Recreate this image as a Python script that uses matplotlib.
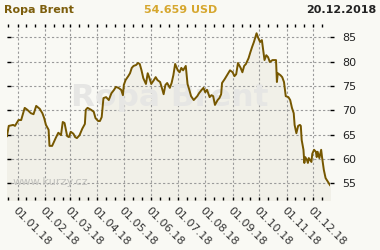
import matplotlib
matplotlib.use("Agg")
import matplotlib.pyplot as plt
import matplotlib.dates as mdates
import numpy as np
import pandas as pd

# Brent crude, USD per barrel
dates = [
    "2017-12-20", "2017-12-22", "2017-12-27", "2017-12-29", "2018-01-02", "2018-01-05",
    "2018-01-09", "2018-01-12", "2018-01-16", "2018-01-19", "2018-01-22", "2018-01-26",
    "2018-01-29", "2018-01-31", "2018-02-02", "2018-02-05", "2018-02-06", "2018-02-09",
    "2018-02-13", "2018-02-16", "2018-02-19", "2018-02-21", "2018-02-23", "2018-02-26",
    "2018-02-28", "2018-03-02", "2018-03-05", "2018-03-07", "2018-03-09", "2018-03-12",
    "2018-03-15", "2018-03-18", "2018-03-19", "2018-03-21", "2018-03-25", "2018-03-28",
    "2018-03-30", "2018-04-02", "2018-04-04", "2018-04-06", "2018-04-08", "2018-04-11",
    "2018-04-14", "2018-04-17", "2018-04-20", "2018-04-22", "2018-04-25", "2018-04-28",
    "2018-04-30", "2018-05-01", "2018-05-03", "2018-05-06", "2018-05-08", "2018-05-10",
    "2018-05-12", "2018-05-15", "2018-05-17", "2018-05-19", "2018-05-21", "2018-05-23",
    "2018-05-26", "2018-05-28", "2018-05-30", "2018-06-01", "2018-06-04", "2018-06-06",
    "2018-06-08", "2018-06-11", "2018-06-13", "2018-06-15", "2018-06-17", "2018-06-19",
    "2018-06-22", "2018-06-24", "2018-06-26", "2018-06-28", "2018-07-01", "2018-07-03",
    "2018-07-05", "2018-07-07", "2018-07-10", "2018-07-12", "2018-07-14", "2018-07-16",
    "2018-07-19", "2018-07-21", "2018-07-23", "2018-07-25", "2018-07-28", "2018-07-30",
    "2018-08-01", "2018-08-03", "2018-08-06", "2018-08-08", "2018-08-10", "2018-08-12",
    "2018-08-15", "2018-08-17", "2018-08-19", "2018-08-20", "2018-08-23", "2018-08-25",
    "2018-08-27", "2018-08-29", "2018-09-01", "2018-09-03", "2018-09-05", "2018-09-07",
    "2018-09-10", "2018-09-12", "2018-09-14", "2018-09-16", "2018-09-19", "2018-09-21",
    "2018-09-23", "2018-09-25", "2018-09-28", "2018-09-30", "2018-10-02", "2018-10-04",
    "2018-10-07", "2018-10-09", "2018-10-11", "2018-10-13", "2018-10-16", "2018-10-18",
    "2018-10-20", "2018-10-21", "2018-10-22", "2018-10-25", "2018-10-27", "2018-10-29",
    "2018-10-31", "2018-11-03", "2018-11-05", "2018-11-07", "2018-11-09", "2018-11-10",
    "2018-11-12", "2018-11-14", "2018-11-16", "2018-11-17", "2018-11-18", "2018-11-20",
    "2018-11-21", "2018-11-22", "2018-11-24", "2018-11-25", "2018-11-26", "2018-11-29",
    "2018-11-30", "2018-12-02", "2018-12-04", "2018-12-05", "2018-12-06", "2018-12-08",
    "2018-12-10", "2018-12-11", "2018-12-13", "2018-12-15", "2018-12-20",
]
prices = [
    64.7, 66.8, 67.0, 66.8, 68.0, 68.0,
    70.5, 70.1, 69.4, 69.2, 70.9, 70.3,
    69.4, 68.4, 67.0, 66.0, 62.7, 62.7,
    64.3, 65.4, 64.9, 67.6, 67.4, 64.7,
    64.5, 65.6, 65.2, 64.5, 64.3, 64.9,
    66.2, 67.2, 70.1, 70.5, 70.1, 69.7,
    68.4, 67.8, 67.8, 68.6, 72.5, 72.7,
    72.1, 73.5, 74.2, 74.8, 74.6, 74.2,
    73.1, 75.2, 76.2, 77.0, 77.6, 78.7,
    79.1, 79.3, 79.7, 79.5, 78.2, 76.6,
    75.4, 77.6, 76.6, 75.4, 76.2, 76.8,
    76.2, 75.8, 74.6, 73.3, 75.2, 75.6,
    74.6, 75.6, 77.2, 79.5, 78.2, 77.8,
    78.7, 78.2, 79.1, 75.4, 74.2, 72.9,
    72.1, 72.5, 72.9, 73.5, 74.2, 74.6,
    73.7, 74.2, 72.7, 73.1, 72.9, 71.1,
    72.1, 72.5, 73.3, 75.6, 76.4, 77.0,
    77.6, 78.2, 77.8, 77.0, 77.4, 79.7,
    78.7, 77.8, 79.1, 79.5, 80.7, 81.9,
    83.0, 84.0, 85.8, 84.8, 84.0, 84.4,
    80.3, 81.3, 80.9, 79.9, 80.3, 80.3,
    80.3, 75.8, 77.6, 77.2, 76.8, 75.8,
    72.9, 72.7, 72.1, 70.5, 69.4, 67.0,
    65.3, 66.8, 67.0, 66.8, 63.9, 61.9,
    59.2, 60.4, 59.8, 59.2, 60.2, 59.4,
    61.1, 61.9, 61.5, 60.4, 61.5, 60.2,
    61.9, 60.4, 57.8, 56.1, 54.659,
]
y_ticks = [55, 60, 65, 70, 75, 80, 85]

x = pd.to_datetime(dates)
line_color = "#765700"
bg = "#f9f9f4"

fig = plt.figure(figsize=(3.8, 2.5), dpi=100, facecolor=bg)
ax = fig.add_axes([7 / 380, 50 / 250, 323 / 380, 176 / 250])
ax.set_facecolor(bg)

ax.set_xlim(pd.Timestamp("2017-12-20"), pd.Timestamp("2018-12-20"))
ax.set_ylim(51.6, 87.7)

ax.fill_between(x, prices, 51.6, color="#f1f0e8", zorder=1)
ax.plot(x, prices, color=line_color, lw=1.4, zorder=3)

# watermarks
ax.text(0.505, 0.585, "Ropa Brent", transform=ax.transAxes, ha="center", va="center",
        fontsize=22.5, fontweight="bold", color="#e6e6e4", zorder=2)
ax.text(0.018, 0.10, "www.kurzy.cz", transform=ax.transAxes, ha="left", va="center",
        fontsize=8.2, color="#c2c2be", zorder=2)

for s in ax.spines.values():
    s.set_visible(False)

ax.xaxis.set_major_locator(mdates.MonthLocator())
ax.xaxis.set_minor_locator(mdates.DayLocator(bymonthday=[11, 21]))
ax.xaxis.set_major_formatter(mdates.DateFormatter("%d.%m.%y"))
ax.set_yticks(y_ticks)

ax.grid(True, which="major", color="#9a9a9a", linestyle=(0, (2, 2)), lw=0.8, zorder=2)

ax.yaxis.tick_right()
ax.tick_params(axis="y", which="both", right=True, left=True, direction="out",
               length=3, width=1, color="black", labelsize=8, labelcolor="#222222", pad=6)
for t in ax.yaxis.get_major_ticks():
    t.tick1line.set_marker(matplotlib.lines.TICKRIGHT)
ax.tick_params(axis="x", which="both", bottom=True, top=True, direction="in",
               length=2.5, width=1, color="black", labelsize=8, labelcolor="#333333", pad=4)

for lab in ax.get_xticklabels():
    lab.set_rotation(-45)
    lab.set_ha("left")
    lab.set_va("top")
    lab.set_rotation_mode("anchor")

fig.text(4 / 380, 1 - 10 / 250, "Ropa Brent", ha="left", va="center",
         fontsize=8, fontweight="bold", color="#7d5e0c")
fig.text(181 / 380, 1 - 10 / 250, "54.659 USD", ha="center", va="center",
         fontsize=8, fontweight="bold", color="#d6a72e")
fig.text(376 / 380, 1 - 10 / 250, "20.12.2018", ha="right", va="center",
         fontsize=8, fontweight="bold", color="#222222")

fig.savefig("out.png", dpi=100, facecolor=bg)
